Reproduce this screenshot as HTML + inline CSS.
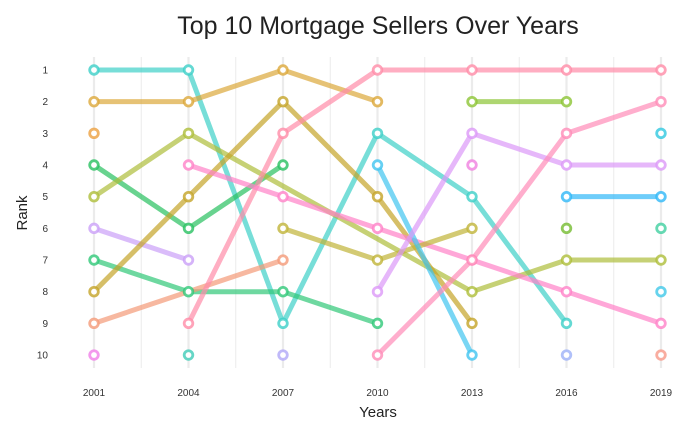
<!DOCTYPE html>
<html><head><meta charset="utf-8"><style>
body{margin:0;background:#fff;}
svg{display:block;font-family:"Liberation Sans",sans-serif;}
</style></head><body>
<svg id="chart" width="700" height="432">
<text x="378" y="34" text-anchor="middle" font-size="25" fill="#222">Top 10 Mortgage Sellers Over Years</text>
<text x="378" y="417" text-anchor="middle" font-size="15" fill="#222">Years</text>
<text x="27" y="213" text-anchor="middle" font-size="15" fill="#222" transform="rotate(-90 27 213)">Rank</text>
<g id="grid"></g><g id="lines"></g><g id="points"></g><g id="ticks"></g>
</svg>
<script>
const years = [2001, 2004, 2007, 2010, 2013, 2016, 2019];
const rankTicks = [1,2,3,4,5,6,7,8,9,10];
const seriesNames = ['s1','s2','s3','s4','s5','s6','s7','s8','s9','s10','s11','s12','s13','s14','s15','s16','s17','s18','s19','s20','s21','s22','s23','s24','s25'];
const seriesColors = ['#3dd0c8','#dca83a','#eca040','#28c060','#aebe3a','#caa0f8','#30c878','#c4a428','#f49a78','#f080e8','#ff8ca8','#ff82c8','#40ccb8','#c0b438','#b0a8f8','#40c4f0','#dc98f8','#ff8cb8','#8cc434','#f080e0','#30b8f8','#74bc30','#9cb0f8','#30c8e0','#f89888'];
const seriesRanks = [
 [1,1,9,3,5,9,null],
 [2,2,1,2,null,null,null],
 [3,null,null,null,null,null,null],
 [4,6,4,null,null,null,null],
 [5,3,null,null,8,7,7],
 [6,7,null,null,null,null,null],
 [7,8,8,9,null,null,null],
 [8,5,2,5,9,null,null],
 [9,null,7,null,null,null,null],
 [10,null,null,null,null,null,null],
 [null,9,3,1,1,1,1],
 [null,4,5,6,7,8,9],
 [null,10,null,null,null,null,null],
 [null,null,6,7,6,null,null],
 [null,null,10,null,null,null,null],
 [null,null,null,4,10,null,null],
 [null,null,null,8,3,4,4],
 [null,null,null,10,7,3,2],
 [null,null,null,null,2,2,null],
 [null,null,null,null,4,null,null],
 [null,null,null,null,null,5,5],
 [null,null,null,null,null,6,null],
 [null,null,null,null,null,10,null],
 [null,null,null,null,null,null,3],
 [null,null,null,null,null,null,10]
];
const extraPointRanks = [[2019,6,'#40d0a0'],[2019,8,'#40c8e8']];
const NS='http://www.w3.org/2000/svg';
const x = y => 94 + (y - 2001) / 3 * 94.5;
const yS = r => 70 + (r - 1) * 31.67;
function mk(tag, attrs, parent){const e=document.createElementNS(NS,tag);for(const k in attrs)e.setAttribute(k,attrs[k]);parent.appendChild(e);return e;}
const grid=document.getElementById('grid'), lines=document.getElementById('lines'), points=document.getElementById('points'), ticks=document.getElementById('ticks');
years.forEach((yr,i)=>{
  const g=mk('line',{x1:x(yr),x2:x(yr),y1:57,y2:368,stroke:'#ebebeb','stroke-width':2.2},grid);
  
  
  if(i<years.length-1){const m=mk('line',{x1:x(yr+1.5),x2:x(yr+1.5),y1:57,y2:368,stroke:'#ebebeb','stroke-width':1},grid);
    
    }
  const t=mk('text',{x:x(yr),y:396,'text-anchor':'middle','font-size':10,fill:'#333'},ticks);t.textContent=yr;
  
  
});
rankTicks.forEach(r=>{
  const t=mk('text',{x:48,y:yS(r)+3.5,'text-anchor':'end','font-size':10,fill:'#333'},ticks);t.textContent=r;
  
  
});
function pt(cx,cy,c){
  const p=mk('circle',{cx:cx,cy:cy,r:4.3,fill:'#fff',stroke:c,'stroke-width':2.8,'stroke-opacity':0.8},points);
  
  
}
seriesRanks.forEach((ranks,si)=>{
  const c=seriesColors[si];
  const pts=[];ranks.forEach((r,i)=>{if(r!=null)pts.push([x(years[i]),yS(r)]);});
  if(pts.length>1){
    const l=mk('polyline',{points:pts.map(p=>p.join(',')).join(' '),fill:'none',stroke:c,'stroke-width':5,'stroke-opacity':0.7,'stroke-linejoin':'round'},lines);
    
    
  }
  pts.forEach(p=>pt(p[0],p[1],c));
});
extraPointRanks.forEach(e=>pt(x(e[0]),yS(e[1]),e[2]));
</script>
</body></html>
